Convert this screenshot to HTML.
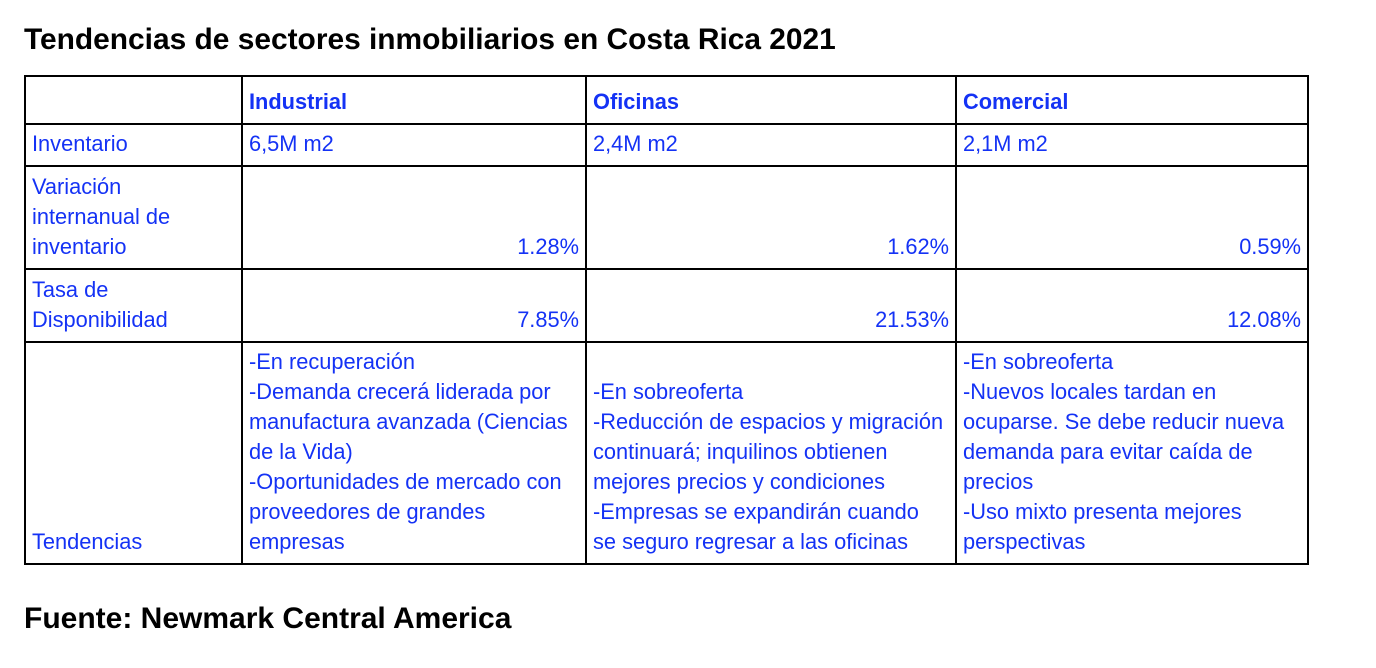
<!DOCTYPE html>
<html><head><meta charset="utf-8"><style>
body{margin:0;width:1376px;height:668px;background:#fff;font-family:"Liberation Sans",Arial,sans-serif;position:relative;overflow:hidden}
h1{position:absolute;left:24px;top:23px;margin:0;font-size:29.9px;font-weight:bold;color:#000;white-space:nowrap}
.src{position:absolute;left:24px;top:602px;margin:0;font-size:30px;font-weight:bold;color:#000;white-space:nowrap}
table{position:absolute;left:24px;top:75px;border-collapse:collapse;table-layout:fixed}
td{border:2px solid #000;color:#1432f5;font-size:21.8px;line-height:30px;vertical-align:bottom;padding:0 6px 6px 6px;box-sizing:border-box;white-space:nowrap;overflow:hidden}
td.r{text-align:right}
</style></head><body>
<h1>Tendencias de sectores inmobiliarios en Costa Rica 2021</h1>
<table>
<colgroup><col style="width:217px"><col style="width:344px"><col style="width:370px"><col style="width:352px"></colgroup>
<tr style="height:48px"><td></td><td style="font-weight:bold">Industrial</td><td style="font-weight:bold">Oficinas</td><td style="font-weight:bold">Comercial</td></tr>
<tr style="height:42px"><td>Inventario</td><td>6,5M m2</td><td>2,4M m2</td><td>2,1M m2</td></tr>
<tr style="height:103px"><td>Variación<br>internanual de<br>inventario</td><td class="r">1.28%</td><td class="r">1.62%</td><td class="r">0.59%</td></tr>
<tr style="height:73px"><td>Tasa de<br>Disponibilidad</td><td class="r">7.85%</td><td class="r">21.53%</td><td class="r">12.08%</td></tr>
<tr style="height:222px"><td>Tendencias</td><td>-En recuperación<br>-Demanda crecerá liderada por<br>manufactura avanzada (Ciencias<br>de la Vida)<br>-Oportunidades de mercado con<br>proveedores de grandes<br>empresas</td><td>-En sobreoferta<br>-Reducción de espacios y migración<br>continuará; inquilinos obtienen<br>mejores precios y condiciones<br>-Empresas se expandirán cuando<br>se seguro regresar a las oficinas</td><td>-En sobreoferta<br>-Nuevos locales tardan en<br>ocuparse. Se debe reducir nueva<br>demanda para evitar caída de<br>precios<br>-Uso mixto presenta mejores<br>perspectivas</td></tr>
</table>
<p class="src">Fuente: Newmark Central America</p>
</body></html>
